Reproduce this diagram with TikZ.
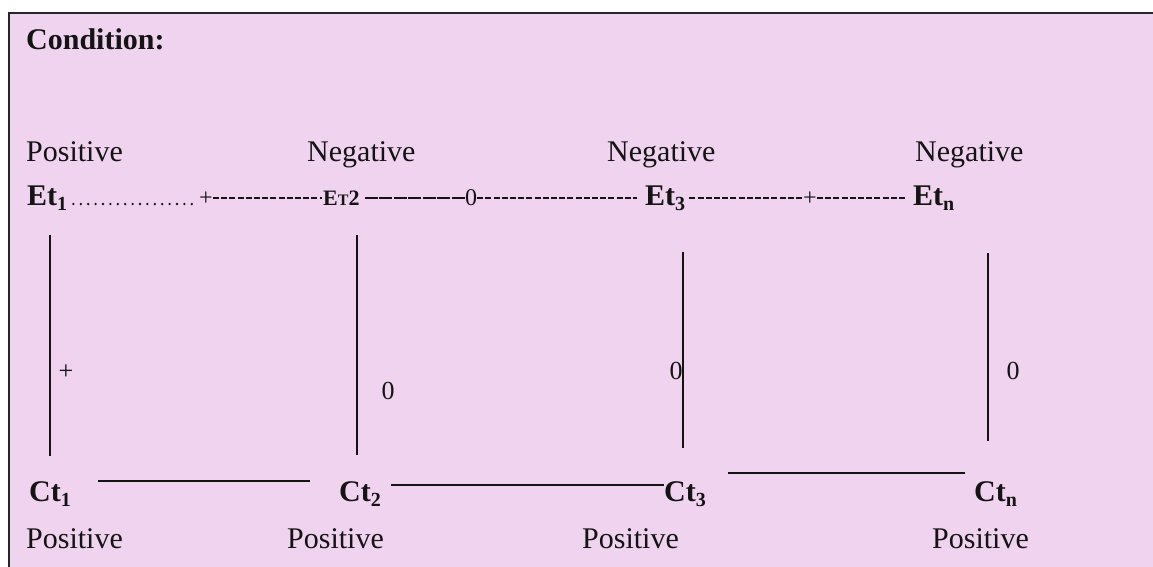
\documentclass[tikz,border=0pt]{standalone}
\usepackage{fontspec}
\setmainfont{Liberation Serif}
\definecolor{bgpink}{RGB}{240,211,239}
\definecolor{ink}{RGB}{20,20,20}
\newcommand\subx[1]{\raisebox{-5pt}{\fontsize{20}{20}\selectfont #1}}
\begin{document}
\begin{tikzpicture}[x=1pt,y=-1pt,
  txt/.style={inner sep=0pt,anchor=base west,text=ink,font=\fontsize{30}{36}\selectfont},
  bld/.style={txt,font=\fontsize{30}{36}\selectfont\bfseries},
  onl/.style={inner sep=0pt,anchor=base,text=ink,font=\fontsize{24}{28}\selectfont},
  vlbl/.style={inner sep=0pt,anchor=base,text=ink,font=\fontsize{26}{30}\selectfont},
  dotline/.style={line width=2.6pt,line cap=round,dash pattern=on 0pt off 7.4pt,ink},
  dashline/.style={line width=1.8pt,dash pattern=on 6pt off 2.2pt,ink},
  longdash/.style={line width=1.9pt,dash pattern=on 13pt off 1.5pt,ink},
  vline/.style={line width=1.5pt,ink},
  hline/.style={line width=2pt,ink}]
\useasboundingbox (0,0) rectangle (1153,566);
\fill[white] (0,0) rectangle (1153,566);
\fill[bgpink] (9,13) rectangle (1160,570);
\draw[line width=2.5pt,black!85] (8,13) -- (1160,13);
\draw[line width=1.3pt,black!85] (9,13) -- (9,570);

% title
\node[bld] (cond) at (26,49) {Condition:};

% top signs
\node[txt] (s1) at (26,161) {Positive};
\node[txt] (s2) at (307,161) {Negative};
\node[txt] (s3) at (607,161) {Negative};
\node[txt] (s4) at (915,161) {Negative};

% Et row
\node[bld] (E1) at (27,205) {Et\subx{1}};
\node[onl] (p1) at (206,205) {+};
\node[inner sep=0pt,anchor=base west,text=ink,font=\bfseries] (E2) at (323,205)
  {\fontsize{22}{26}\selectfont E\fontsize{16}{20}\selectfont T\fontsize{22}{26}\selectfont 2};
\node[onl] (z1) at (471,205) {0};
\node[bld] (E3) at (645,205) {Et\subx{3}};
\node[onl] (p2) at (810,205) {+};
\node[bld] (En) at (913,205) {Et\subx{n}};

\draw[dotline] ([xshift=6pt,yshift=1pt]E1.base east) -- ([xshift=-2pt,yshift=1pt]p1.base west);
\draw[dashline] ([yshift=7pt]p1.base east) -- ([xshift=-1pt,yshift=7pt]E2.base west);
\draw[longdash] ([xshift=5pt,yshift=7pt]E2.base east) -- ([yshift=7pt]z1.base west);
\draw[dashline] ([yshift=7pt]z1.base east) -- ([xshift=-8pt,yshift=7pt]E3.base west);
\draw[dashline] ([xshift=4pt,yshift=7pt]E3.base east) -- ([yshift=7pt]p2.base west);
\draw[dashline] ([yshift=7pt]p2.base east) -- ([xshift=-8pt,yshift=7pt]En.base west);

% verticals
\coordinate (v1a) at (50,235);  \coordinate (v1b) at (50,456);
\coordinate (v2a) at (357,235); \coordinate (v2b) at (357,455);
\coordinate (v3a) at (683,252); \coordinate (v3b) at (683,448);
\coordinate (v4a) at (988,253); \coordinate (v4b) at (988,441);
\draw[vline] (v1a) -- (v1b);
\draw[vline] (v2a) -- (v2b);
\draw[vline] (v3a) -- (v3b);
\draw[vline] (v4a) -- (v4b);
\node[vlbl] (l1) at (66,379) {+};
\node[vlbl] (l2) at (388,399) {0};
\node[vlbl] (l3) at (676,379) {0};
\node[vlbl] (l4) at (1013,379) {0};

% Ct row
\node[bld] (C1) at (29,501) {Ct\subx{1}};
\node[bld] (C2) at (339,501) {Ct\subx{2}};
\node[bld] (C3) at (664,501) {Ct\subx{3}};
\node[bld] (Cn) at (974,501) {Ct\subx{n}};
\draw[hline] ([xshift=27pt,yshift=20pt]C1.base east) -- ([xshift=-29pt,yshift=20pt]C2.base west);
\draw[hline] ([xshift=10pt,yshift=16pt]C2.base east) -- ([yshift=16pt]C3.base west);
\draw[hline] ([xshift=22pt,yshift=28pt]C3.base east) -- ([xshift=-9pt,yshift=28pt]Cn.base west);

% bottom signs
\node[txt] (b1) at (26,548) {Positive};
\node[txt] (b2) at (287,548) {Positive};
\node[txt] (b3) at (582,548) {Positive};
\node[txt] (b4) at (932,548) {Positive};
\end{tikzpicture}
\end{document}
